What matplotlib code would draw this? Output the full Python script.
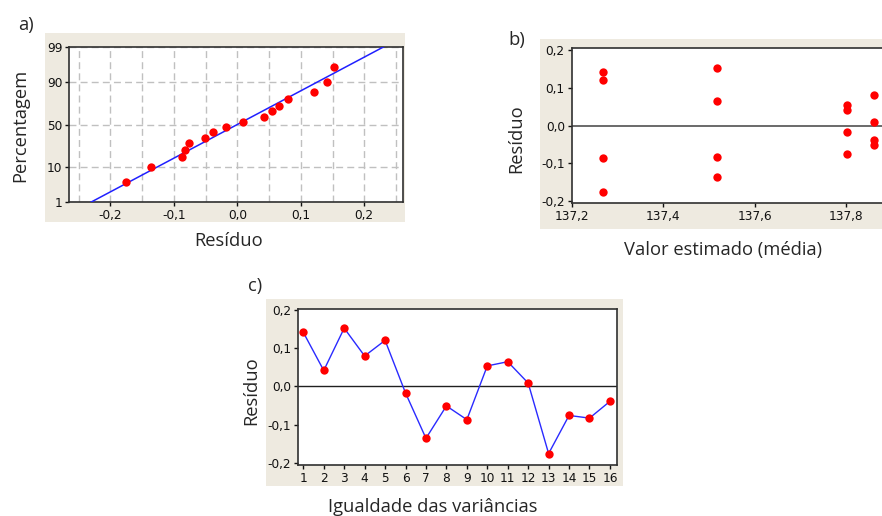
import math
import numpy as np
import matplotlib
matplotlib.use('Agg')
import matplotlib.pyplot as plt
from matplotlib.patches import Rectangle

# residuos por ordem de observacao (grafico c)
obs = list(range(1, 17))
residuo = [0.142, 0.042, 0.153, 0.080, 0.121, -0.017, -0.136, -0.051,
           -0.087, 0.054, 0.065, 0.009, -0.176, -0.076, -0.083, -0.039]
# valor estimado (media) de cada observacao (grafico b)
estimado = [137.267, 137.803, 137.518, 137.862, 137.267, 137.803, 137.518, 137.862,
            137.267, 137.803, 137.518, 137.862, 137.267, 137.803, 137.518, 137.862]
# percentagem acumulada dos residuos ordenados (grafico a)
percentagem = [4.3, 10.4, 16.5, 22.6, 28.7, 34.8, 40.9, 47.0,
               53.0, 59.1, 65.2, 71.3, 77.4, 83.5, 89.6, 95.7]

res_ticks = [-0.2, -0.1, 0.0, 0.1, 0.2]
res_labels = ['-0,2', '-0,1', '0,0', '0,1', '0,2']
pct_ticks = [1, 10, 50, 90, 99]
pct_labels = ['1', '10', '50', '90', '99']
est_ticks = [137.2, 137.4, 137.6, 137.8]
est_labels = ['137,2', '137,4', '137,6', '137,8']

W, H = 882, 516
BEIGE = '#eeeae0'
LABEL_FONT = 'Open Sans'
TICK_FONT = 'DejaVu Sans'

fig = plt.figure(figsize=(W / 100, H / 100), dpi=100)
fig.patch.set_facecolor('white')


def px_axes(left, top, right, bottom):
    return fig.add_axes([left / W, 1 - bottom / H, (right - left) / W, (bottom - top) / H])


def beige(left, top, right, bottom):
    fig.add_artist(Rectangle((left / W, 1 - bottom / H), (right - left) / W, (bottom - top) / H,
                             transform=fig.transFigure, facecolor=BEIGE, edgecolor='none', zorder=-1))


def ftext(x, y, s, size=13.2, **kw):
    fig.text(x / W, 1 - y / H, s, family=LABEL_FONT, fontsize=size, color='#262626', **kw)


def style(ax):
    for sp in ax.spines.values():
        sp.set_color('#303030')
        sp.set_linewidth(1.2)
    ax.tick_params(length=3, width=1, pad=2, colors='#111111', labelsize=8.7)
    for lb in ax.get_xticklabels() + ax.get_yticklabels():
        lb.set_family(TICK_FONT)


# normal probability scale
zgrid = np.linspace(-6, 6, 6001)
pgrid = 0.5 * (1 + np.vectorize(math.erf)(zgrid / math.sqrt(2)))


def fwd(p):
    return np.interp(np.asarray(p, dtype=float) / 100.0, pgrid, zgrid)


def inv(z):
    return 100.0 * np.interp(np.asarray(z, dtype=float), zgrid, pgrid)


# ---- a) grafico de probabilidade normal
beige(45, 33, 405, 222)
ax1 = px_axes(69.3, 46.7, 402.7, 202.3)
ax1.set_yscale('function', functions=(fwd, inv))
ax1.set_ylim(1, 99)
ax1.set_xlim(-0.2645, 0.2605)
ax1.set_xticks(res_ticks)
ax1.set_xticklabels(res_labels)
ax1.set_xticks([-0.25, -0.15, -0.05, 0.05, 0.15, 0.25], minor=True)
ax1.set_yticks(pct_ticks)
ax1.set_yticklabels(pct_labels)
ax1.yaxis.set_minor_locator(matplotlib.ticker.NullLocator())
ax1.tick_params(which='minor', length=0)
ax1.grid(True, which='both', axis='x', color='#c0c0c0', lw=1, ls=(0, (5, 3)))
ax1.grid(True, which='major', axis='y', color='#c0c0c0', lw=1, ls=(0, (5, 3)))
ax1.set_axisbelow(True)

mu = np.mean(residuo)
sd = np.std(residuo, ddof=1)
ends = [1, 99]
ax1.plot(mu + sd * fwd(ends), ends, color='#2020ff', lw=1.1, zorder=3)
ax1.plot(np.sort(residuo), percentagem, 'o', color='#ff0000', ms=6, mec='none', zorder=4)
style(ax1)

ftext(18, 25, 'a)', va='center', ha='left')
ftext(20, 125, 'Percentagem', va='center', ha='center', rotation=90)
ftext(229, 241, 'Resíduo', va='center', ha='center')

# ---- b) residuo vs valor estimado
beige(540, 39, 900, 229)
ax2 = px_axes(571.7, 48.3, 904.9, 203.3)
ax2.set_xlim(137.1987, 137.93)
ax2.set_ylim(-0.206, 0.2045)
ax2.set_xticks(est_ticks)
ax2.set_xticklabels(est_labels)
ax2.set_yticks(res_ticks)
ax2.set_yticklabels(res_labels)
ax2.axhline(0, color='#505050', lw=1.2, zorder=2)
ax2.plot(estimado, residuo, 'o', color='#ff0000', ms=6, mec='none', zorder=4)
style(ax2)

ftext(508, 40, 'b)', va='center', ha='left')
ftext(516, 139, 'Resíduo', va='center', ha='center', rotation=90)
ftext(723.5, 250, 'Valor estimado (média)', va='center', ha='center')

# ---- c) residuo vs ordem
beige(266, 299, 623, 486)
ax3 = px_axes(298.3, 309.3, 617.3, 465)
ax3.set_xlim(0.755, 16.36)
ax3.set_ylim(-0.206, 0.2025)
ax3.set_xticks(obs)
ax3.set_yticks(res_ticks)
ax3.set_yticklabels(res_labels)
ax3.axhline(0, color='#202020', lw=1, zorder=2)
ax3.plot(obs, residuo, '-', color='#2a2aff', lw=1, zorder=3)
ax3.plot(obs, residuo, 'o', color='#ff0000', ms=6, mec='none', zorder=4)
style(ax3)

ftext(248, 286, 'c)', va='center', ha='left')
ftext(251, 391, 'Resíduo', va='center', ha='center', rotation=90)
ftext(433, 507, 'Igualdade das variâncias', va='center', ha='center')

fig.savefig('out.png', dpi=100)
